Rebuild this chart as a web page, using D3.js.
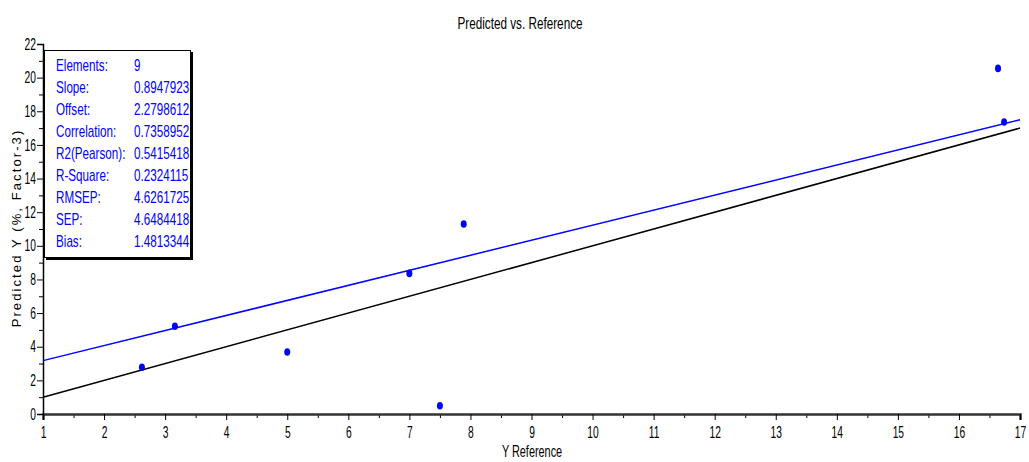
<!DOCTYPE html>
<html>
<head>
<meta charset="utf-8">
<script src="https://cdn.jsdelivr.net/npm/d3@7"></script>
<style>
  body { margin: 0; background: #fff; }
  svg text { font-family: "Liberation Sans", Arial, sans-serif; }
</style>
</head>
<body>
<svg id="chart" width="1029" height="462"></svg>
<script>
// reference (x) vs predicted (y) samples
const refVals = [2.62, 3.16, 5.0, 7.0, 7.5, 7.89, 16.64, 16.74];
const predVals = [2.78, 5.22, 3.69, 8.36, 0.49, 11.3, 20.55, 17.36];

// regression stats shown in the box
const statNames = ['Elements:', 'Slope:', 'Offset:', 'Correlation:', 'R2(Pearson):', 'R-Square:', 'RMSEP:', 'SEP:', 'Bias:'];
const statVals = ['9', '0.8947923', '2.2798612', '0.7358952', '0.5415418', '0.2324115', '4.6261725', '4.6484418', '1.4813344'];

const slope = 0.8947923;
const offset = 2.2798612;

const xTicks = d3.range(1, 18);
const yTicks = d3.range(0, 23, 2);

const svg = d3.select('#chart');
const mLeft = 43, mRight = 1020, mTop = 44, mBottom = 414;

const x = d3.scaleLinear().domain([1, 17]).range([mLeft, mRight]);
const y = d3.scaleLinear().domain([0, 22]).range([mBottom, mTop]);

// condensed text: normal font squeezed sideways
narrow = (g, tx, ty, str, size, sx, anchor) =>
  g.append('text')
    .attr('transform', 'translate(' + tx + ',' + ty + ') scale(' + sx + ',1)')
    .attr('text-anchor', anchor || 'start')
    .style('font-size', size + 'px')
    .text(str)

// title + axis labels
narrow(svg, 520, 29, 'Predicted vs. Reference', 17, 0.69, 'middle');
narrow(svg, 532, 457, 'Y Reference', 16, 0.68, 'middle');
svg.append('text').attr('transform', 'translate(21,228) rotate(-90)').attr('text-anchor', 'middle')
  .style('font-size', '13px').style('letter-spacing', '2.1px')
  .text('Predicted Y (%, Factor-3)');

// x axis: minor ticks then major ticks
const gx = svg.append('g').attr('transform', 'translate(0,' + mBottom + ')');
gx.call(d3.axisBottom(x).tickValues(d3.range(1.5, 17, 1)).tickSize(4).tickFormat(''));
gx.select('.domain').remove();
const gx2 = svg.append('g').attr('transform', 'translate(0,' + mBottom + ')');
gx2.call(d3.axisBottom(x).tickValues(xTicks).tickSize(6).tickPadding(7).tickFormat(d3.format('d')));
gx2.select('.domain').attr('stroke', '#333').attr('stroke-width', 2.5);
gx2.attr('font-family', null).attr('font-size', null);
gx2.selectAll('text').style('font-size', '16px').attr('fill', '#000').attr('transform', 'scale(0.64,1)');

// y axis
const gy = svg.append('g').attr('transform', 'translate(' + mLeft + ',0)');
gy.call(d3.axisLeft(y).tickValues(d3.range(1, 22, 2)).tickSize(4).tickFormat(''));
gy.select('.domain').remove();
const gy2 = svg.append('g').attr('transform', 'translate(' + mLeft + ',0)');
gy2.call(d3.axisLeft(y).tickValues(yTicks).tickSize(6).tickFormat(d3.format('d')));
gy2.select('.domain').attr('stroke-width', 1.5);
gy2.attr('font-family', null).attr('font-size', null);
gy2.selectAll('text').style('font-size', '16px').attr('fill', '#000')
  .attr('x', -7 / 0.64).attr('transform', 'scale(0.64,1)');

// target line y = x
svg.append('line')
  .attr('x1', x(1)).attr('y1', y(1)).attr('x2', x(17)).attr('y2', y(17))
  .attr('stroke', '#000').attr('stroke-width', 1.5);

// regression line
svg.append('line')
  .attr('x1', x(1)).attr('y1', y(slope * 1 + offset))
  .attr('x2', x(17)).attr('y2', y(slope * 17 + offset))
  .attr('stroke', '#0000ff').attr('stroke-width', 1.5);

// points
svg.append('g').selectAll('ellipse')
  .data(refVals.map((v, i) => [v, predVals[i]]))
  .join('ellipse')
  .attr('cx', d => x(d[0])).attr('cy', d => y(d[1]))
  .attr('rx', 3).attr('ry', 3.8)
  .attr('fill', '#0000ff');

// stats box
const box = svg.append('g');
box.append('rect').attr('x', 46).attr('y', 52).attr('width', 147).attr('height', 208).attr('fill', '#000');
box.append('rect').attr('x', 44.5).attr('y', 50.5).attr('width', 146).attr('height', 207)
  .attr('fill', '#fff').attr('stroke', '#000').attr('stroke-width', 1);

statNames.forEach((n, i) => {
  narrow(box, 56, 71 + i * 22, n, 16, 0.73).attr('fill', '#0000ff');
  narrow(box, 134, 71 + i * 22, statVals[i], 16, 0.73).attr('fill', '#0000ff');
});
</script>
</body>
</html>
